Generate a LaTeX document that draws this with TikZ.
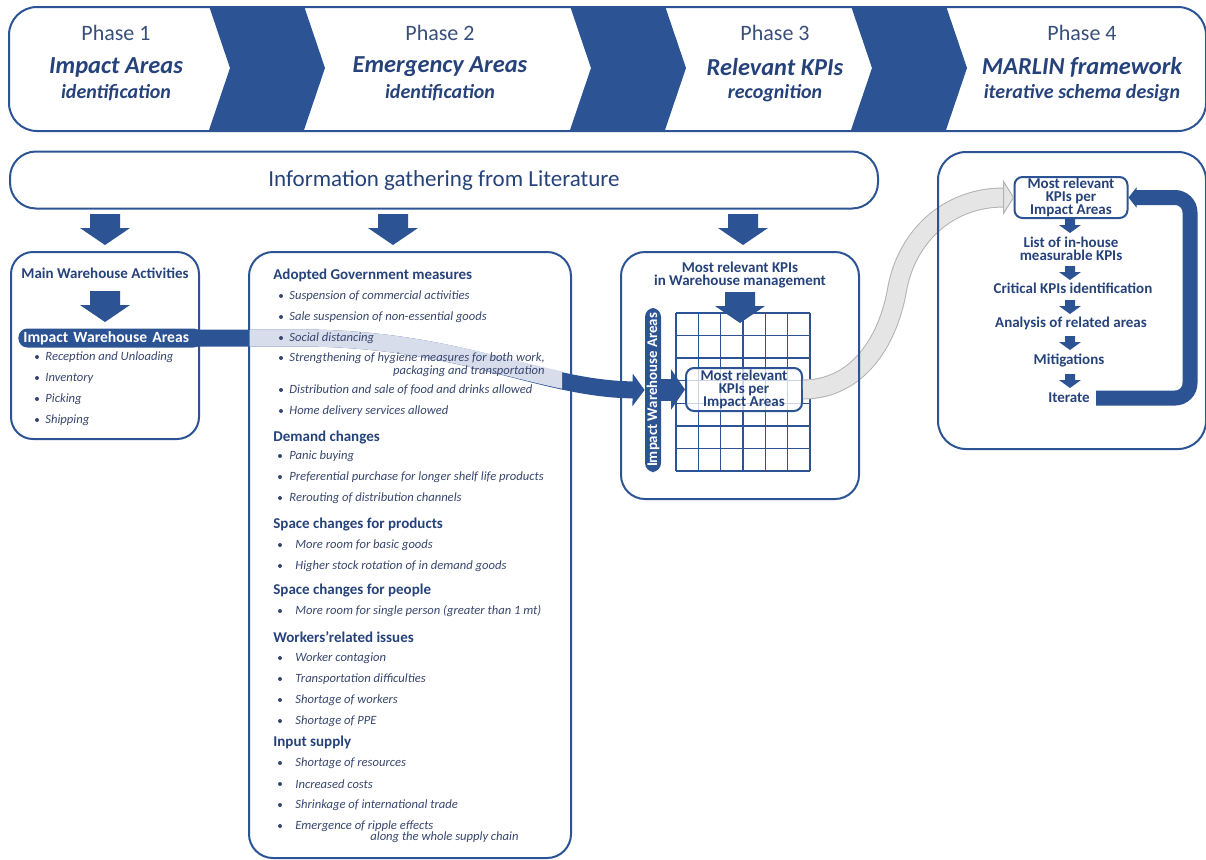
\documentclass[tikz,border=0pt]{standalone}
\usepackage{fontspec}
\setmainfont{Carlito}
\usetikzlibrary{arrows.meta}

\definecolor{kpiblue}{RGB}{44,84,148}
\definecolor{inkblue}{RGB}{38,66,122}
\definecolor{itemblue}{RGB}{55,70,110}
\definecolor{bandlight}{RGB}{216,221,236}

\tikzset{
  panel/.style={draw=kpiblue, line width=1pt, rounded corners=11pt, anchor=north west, inner sep=0pt},
  head/.style={font=\fontsize{7.5}{6.7}\selectfont\bfseries, text=inkblue, inner sep=0pt, align=center},
  item/.style={font=\fontsize{6.3}{5.3}\selectfont\itshape, text=itemblue, inner sep=0pt, anchor=west},
  areabar/.style={fill=kpiblue, text=white, font=\fontsize{7.8}{9}\selectfont\bfseries, rounded corners=4.5pt, inner sep=0pt},
  cellbox/.style={draw=kpiblue, line width=1pt, rounded corners=4pt, fill=white, fill opacity=0.75, text opacity=1,
    inner sep=0pt, minimum width=58pt, minimum height=21.5pt, align=center,
    font=\fontsize{7.5}{6.6}\selectfont\bfseries, text=inkblue},
  phasenum/.style={font=\fontsize{11}{13}\selectfont, text=inkblue!80!gray},
  phasettl/.style={font=\fontsize{12.2}{14}\selectfont\bfseries\itshape, text=inkblue},
  phasesub/.style={font=\fontsize{10}{12}\selectfont\bfseries\itshape, text=inkblue},
  pics/bigdown/.style={code={
    \fill[kpiblue] (-15,0) -- (15,0) -- (15,14) -- (25,14) -- (0,31) -- (-25,14) -- (-15,14) -- cycle;}},
  pics/smalldown/.style={code={
    \fill[kpiblue] (-5,0) -- (5,0) -- (5,6) -- (11,6) -- (0,14) -- (-11,6) -- (-5,6) -- cycle;}},
}

\begin{document}
\begin{tikzpicture}[x=0.5pt, y=-0.5pt]
  \useasboundingbox (0,0) rectangle (1206,859);

  % phase banner
  \node[panel, minimum width=598.5pt, minimum height=62pt, rounded corners=14pt] (banner) at (8,6) {};
  \foreach \cx in {209,570,851}
    \fill[kpiblue] (\cx,6) -- ++(95,0) -- ++(21,62) -- ++(-21,62) -- ++(-95,0) -- ++(21,-62) -- cycle;
  \foreach \px/\n/\ttl/\sub in {116/1/Impact Areas/identification,
      440/2/Emergency Areas/identification,
      775/3/Relevant KPIs/recognition,
      1082/4/MARLIN framework/iterative schema design} {
    \node[phasenum] (num\n) at (\px,33) {Phase \n};
    \node[phasettl] (ttl\n) at (\px,67) {\ttl};
    \node[phasesub] (sub\n) at (\px,93) {\sub};
  }

  % literature
  \node[panel, anchor=center, minimum width=434pt, minimum height=28.5pt, rounded corners=13pt,
    font=\fontsize{11.5}{13}\selectfont, text=inkblue] (info) at (444,180) {Information gathering from Literature};
  \pic at (105,214) {bigdown};
  \pic at (393,214) {bigdown};
  \pic at (743,214) {bigdown};

  % KPI matrix
  \node[head] (kpititle) at (740,275) {Most relevant KPIs\\in Warehouse management};
  \foreach \i in {0,...,6}
    \draw[kpiblue, line width=0.7pt] ({676+22.33*\i},313) -- ++(0,158);
  \foreach \j in {0,...,7}
    \draw[kpiblue, line width=0.7pt] (676,{313+22.57*\j}) -- ++(134,0);
  \pic at (740,292) {bigdown};
  \node[areabar, rotate=90, minimum width=82pt, minimum height=8pt, font=\fontsize{7.4}{8}\selectfont\bfseries]
    (iwa) at (653,390) {Impact Warehouse Areas};
  \node[cellbox] (kpicell) at (744,389.5) {Most relevant\\KPIs per\\Impact Areas};
  \draw[kpiblue, line width=11pt, -{Triangle[width=20pt,length=7pt]}] (iwa.south |- kpicell.west) -- (kpicell.west);

  % MARLIN loop
  \node[cellbox, minimum width=56.5pt, minimum height=20.5pt] (kpitop) at (1071,197.5) {Most relevant\\KPIs per\\Impact Areas};
  \node[head] (inhouse) at (1071,249) {List of in-house\\measurable KPIs};
  \node[head] (critical) at (1073,288) {Critical KPIs identification};
  \node[head] (analysis) at (1071,323) {Analysis of related areas};
  \node[head] (mitig) at (1069,360) {Mitigations};
  \node[head] (iterate) at (1069,398) {Iterate};
  \foreach \ay in {219,266,300,336,374}
    \pic at (1070,\ay) {smalldown};
  \coordinate (loopright) at (1190,300);
  \draw[kpiblue, line width=7.5pt, rounded corners=7.5pt, -{Triangle[width=10pt,length=4pt]}]
    ([xshift=3pt]iterate.east) -| (loopright) |- (kpitop.east);

  % light link between the two KPI boxes
  \coordinate (bend) at (897,290);
  \draw[draw=gray!60, line width=0.5pt, double=gray!20, double distance=9pt]
    (kpicell.east) to[out=0,in=-100] (bend) to[out=80,in=180] ([xshift=-5pt]kpitop.west);
  \filldraw[fill=gray!20, draw=gray!60, line width=0.5pt] (kpitop.west) -- ++(-10,-16) -- ++(0,32) -- cycle;

  % panels
  \node[panel, minimum width=94pt, minimum height=93.5pt] (acts) at (10,251) {};
  \node[panel, minimum width=161pt, minimum height=303pt, rounded corners=12pt] (measures) at (248,251) {};
  \node[panel, minimum width=119pt, minimum height=123.5pt, rounded corners=12pt] (kpibox) at (620,251) {};
  \node[panel, minimum width=134pt, minimum height=148.5pt, rounded corners=14pt] (loopbox) at (937,151) {};

  % warehouse activities
  \node[head] (actstitle) at (105,273) {Main Warehouse Activities};
  \pic at (105,291) {bigdown};
  \node[areabar, anchor=west, minimum height=9.5pt, text width=87pt, inner xsep=2.5pt, align=left]
    (areas) at (18,338) {Impact Warehouse Areas};
  \foreach \t [count=\i] in {{Reception and Unloading}, {Inventory}, {Picking}, {Shipping}} {
    \fill[itemblue] (37,{336+21*\i}) circle (1pt);
    \node[item] (act\i) at (45,{336+21*\i}) {\t};
  }

  % areas band into the matrix
  \draw[kpiblue, line width=8.5pt, -{Triangle[width=16pt,length=6pt]}]
    ([xshift=-4pt]areas.east) -- (300,338) .. controls (460,338) and (540,389) .. (iwa.north);
  \begin{scope}
    \clip (249.5,300) rectangle (562,420);
    \draw[bandlight, line width=8.5pt]
      ([xshift=-4pt]areas.east) -- (300,338) .. controls (460,338) and (540,389) .. (iwa.north);
  \end{scope}

  % emergency areas
  \node[head, anchor=west] (govhead) at (273,275) {Adopted Government measures};
  \foreach \t [count=\i] in {{Suspension of commercial activities}, {Sale suspension of non-essential goods}, {Social distancing}} {
    \fill[itemblue] (281,{275+21*\i}) circle (1pt);
    \node[item] (gov\i) at (289,{275+21*\i}) {\t};
  }
  \fill[itemblue] (281,358) circle (1pt);
  \node[item, align=right, anchor=north west] (gov4) at (289,352)
    {Strengthening of hygiene measures for both work,\\packaging and transportation};
  \foreach \t [count=\i from 5] in {{Distribution and sale of food and drinks allowed}, {Home delivery services allowed}} {
    \fill[itemblue] (281,{390+21*(\i-5)}) circle (1pt);
    \node[item] (gov\i) at (289,{390+21*(\i-5)}) {\t};
  }

  \node[head, anchor=west] (demhead) at (273,437) {Demand changes};
  \foreach \t [count=\i] in {{Panic buying}, {Preferential purchase for longer shelf life products}, {Rerouting of distribution channels}} {
    \fill[itemblue] (280,{435+21*\i}) circle (1pt);
    \node[item] (dem\i) at (289,{435+21*\i}) {\t};
  }

  \node[head, anchor=west] (prodhead) at (273,524) {Space changes for products};
  \foreach \t [count=\i] in {{More room for basic goods}, {Higher stock rotation of in demand goods}} {
    \fill[itemblue] (280,{524+21*\i}) circle (1pt);
    \node[item] (prod\i) at (295,{524+21*\i}) {\t};
  }

  \node[head, anchor=west] (pplhead) at (273,590) {Space changes for people};
  \fill[itemblue] (280,611) circle (1pt);
  \node[item] (ppl1) at (295,611) {More room for single person (greater than 1 mt)};

  \node[head, anchor=west] (wrkhead) at (273,637) {Workers’related issues};
  \foreach \t [count=\i] in {{Worker contagion}, {Transportation difficulties}, {Shortage of workers}, {Shortage of PPE}} {
    \fill[itemblue] (280,{637+21*\i}) circle (1pt);
    \node[item] (wrk\i) at (295,{637+21*\i}) {\t};
  }

  \node[head, anchor=west] (suphead) at (273,742) {Input supply};
  \foreach \t [count=\i] in {{Shortage of resources}, {Increased costs}, {Shrinkage of international trade}, {Emergence of ripple effects}} {
    \fill[itemblue] (280,{742+21*\i}) circle (1pt);
    \node[item] (sup\i) at (295,{742+21*\i}) {\t};
  }
  \node[item] (sup5) at (370,837) {along the whole supply chain};

\end{tikzpicture}
\end{document}
